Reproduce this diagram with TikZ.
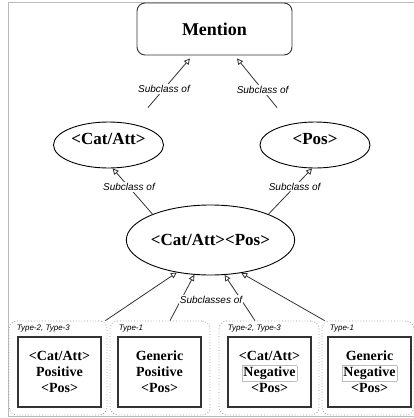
\documentclass[tikz,border=0pt]{standalone}
\usepackage{fontspec}
\setmainfont{Liberation Serif}
\setsansfont{Liberation Sans}
\usetikzlibrary{arrows.meta,shapes.geometric,calc}
\definecolor{framegray}{HTML}{BBBBBB}
\definecolor{dotgray}{HTML}{9A9A9A}
\definecolor{boxgray}{HTML}{333333}
\definecolor{neggray}{HTML}{BDBDBD}
\newcommand{\negbox}[1]{{\setlength\fboxsep{1pt}\setlength\fboxrule{0.6pt}\fcolorbox{neggray}{white}{#1}}}
\begin{document}
\begin{tikzpicture}[x=1pt,y=-1pt,
 subarrow/.style={draw=boxgray, line width=0.8pt, -{Triangle[open,length=6pt,width=6pt,fill=white]}},
 ell/.style={ellipse, draw=black, line width=0.9pt, inner sep=0pt},
 elltext/.style={font=\bfseries\fontsize{17}{20}\selectfont, inner sep=0pt},
 rel/.style={font=\sffamily\itshape\fontsize{10}{12}\selectfont, fill=white, inner sep=1pt},
 group/.style={draw=dotgray, dotted, line width=0.8pt, rounded corners=8pt, minimum height=94pt, inner sep=0pt},
 leaf/.style={draw=boxgray, line width=1.1pt, minimum width=83pt, minimum height=70pt, align=center, inner sep=0pt, font=\bfseries\fontsize{14}{16}\selectfont},
 typelabel/.style={font=\sffamily\itshape\fontsize{8}{9}\selectfont, anchor=west, inner sep=0pt}]
\useasboundingbox (0,0) rectangle (413,418);
% outer frame
\draw[framegray, line width=0.8pt] (416,2) -- (8,2) -- (8,416) -- (416,416);

% top
\node[draw=boxgray, rounded corners=8pt, minimum width=155pt, minimum height=52pt, line width=0.9pt, font=\bfseries\fontsize{18}{20}\selectfont] (m) at (214.5,29) {Mention};

\node[ell, minimum width=110pt, minimum height=46pt] (c) at (108.5,145) {};
\node[elltext] (ctext) at ([yshift=6pt]c.center) {<Cat/Att>};
\node[ell, minimum width=110pt, minimum height=46pt] (p) at (315,145) {};
\node[elltext] (ptext) at ([yshift=6pt]p.center) {<Pos>};
\node[ell, minimum width=164pt, minimum height=70pt, elltext] (e) at (210.5,240) {<Cat/Att><Pos>};

% groups
\node[group, minimum width=98pt] (g1) at (58,368) {};
\node[group, minimum width=100pt] (g2) at (160,368) {};
\node[group, minimum width=100pt] (g3) at (269,368) {};
\node[group, minimum width=92pt] (g4) at (368,368) {};

\node[typelabel] (t1) at ([xshift=8pt,yshift=-8pt]g1.north west) {Type-2, Type-3};
\node[typelabel] (t2) at ([xshift=9pt,yshift=-8pt]g2.north west) {Type-1};
\node[typelabel] (t3) at ([xshift=9pt,yshift=-8pt]g3.north west) {Type-2, Type-3};
\node[typelabel] (t4) at ([xshift=8pt,yshift=-8pt]g4.north west) {Type-1};

\node[leaf] (b1) at (59.5,372) {<Cat/Att>\\Positive\\<Pos>};
\node[leaf] (b2) at (159.5,372) {Generic\\Positive\\<Pos>};
\node[leaf] (b3) at (269.5,372) {<Cat/Att>\\\negbox{Negative}\\<Pos>};
\node[leaf] (b4) at (369.5,372) {Generic\\\negbox{Negative}\\<Pos>};

% connectors
\draw[subarrow] ([xshift=39.5pt,yshift=14pt]c.north) -- node[rel, pos=0.38] {Subclass of} ([xshift=-24.5pt,yshift=-3pt]m.south);
\draw[subarrow] ([xshift=-38pt,yshift=14pt]p.north) -- node[rel, pos=0.36] {Subclass of} ([xshift=22.5pt,yshift=-3pt]m.south);
\draw[subarrow] (e.156) -- node[rel, pos=0.59] {Subclass of} (c.280);
\draw[subarrow] (e.24.3) -- node[rel, pos=0.6] {Subclass of} (p.263.4);

\draw[subarrow] ([xshift=-2pt]g1.north east) -- (e.224.6);
\draw[subarrow] ([xshift=10pt]g2.north) -- (e.245.7);
\draw[subarrow] ([xshift=-14pt]g3.north) -- (e.292.8);
\draw[subarrow] ([xshift=3pt]g4.north west) -- (e.313.2);
\node[rel] (subl) at (211,300) {Subclasses of};
\end{tikzpicture}
\end{document}
